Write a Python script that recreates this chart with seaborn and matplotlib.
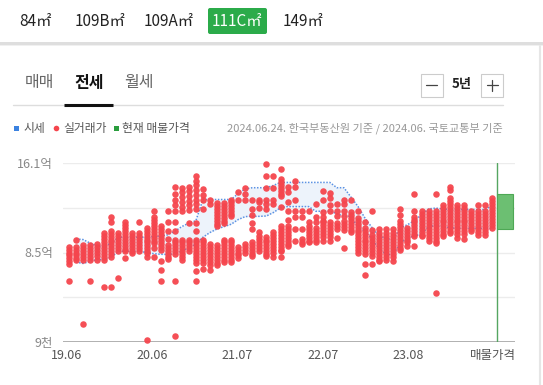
import matplotlib
matplotlib.use('Agg')
import matplotlib.pyplot as plt
from matplotlib.patches import Rectangle, FancyBboxPatch, Circle
import numpy as np
import pandas as pd
import seaborn as sns

# 월 인덱스 (0 = 2019.06 ... 60 = 2024.06)
month_idx = list(range(61))
tick_pos = [-0.3, 11.8, 23.9, 36.0, 48.1]
tick_labels = ['19.06', '20.06', '21.07', '22.07', '23.08']

# 시세 상/하한 (억)
sise_high = [None, 9.65, 9.6, 9.3, 9.05, 9.03, 9.3, 9.8, 9.8, 9.8, 9.8, 9.8, 9.85, 9.9, 10.0,
             10.3, 10.7, 11.0, 11.2, 13.0, 13.0, 13.0, 13.0, 13.0, 13.5, 13.9, 14.0, 14.0, 14.0,
             14.2, 14.45, 14.45, 14.45, 14.45, 14.45, 14.45, 14.45, 14.45, 14.0, 14.0, 13.2, 12.4,
             11.4, 10.6, 9.9, 9.7, 9.6, 10.6, 10.86, 11.2, 11.7, 12.2, 12.27, 12.2, 12.15, 12.15,
             12.15, 12.15, 12.15, 12.15, 12.47]
sise_low = [None, 7.68, 7.57, 7.75, 7.9, 7.9, 8.1, 8.6, 8.6, 8.6, 8.6, 8.5, 8.4, 8.35, 8.33,
            8.4, 8.6, 8.9, 9.2, 9.8, 10.2, 10.5, 10.7, 10.9, 11.3, 11.55, 11.57, 11.57, 11.6,
            11.9, 12.3, 12.4, 12.4, 12.4, 12.4, 12.0, 12.0, 12.0, 11.8, 11.57, 11.57, 10.6, 10.3,
            9.6, 8.8, 8.33, 8.33, 9.3, 9.74, 9.9, 10.07, 10.7, 10.78, 10.7, 10.6, 10.55, 10.55,
            10.55, 10.55, 10.55, 10.53]

# 실거래가 (억), 월별
deals = [
    [9.0, 8.75, 8.5, 8.25, 8.0, 7.8, 7.5, 6.05],
    [9.6, 9.0, 8.75, 8.5, 8.25, 8.0, 7.9],
    [9.1, 8.85, 8.6, 8.35, 8.1, 7.9, 2.45],
    [9.1, 8.85, 8.6, 8.35, 8.1, 7.9, 6.05],
    [9.2, 8.95, 8.7, 8.45, 8.2, 7.9],
    [10.15, 9.9, 9.65, 9.4, 9.15, 8.9, 8.65, 8.4, 8.15, 7.9, 5.55],
    [11.5, 11.05, 10.35, 10.1, 9.85, 9.6, 9.35, 9.1, 8.85, 8.6, 8.35, 8.15, 5.55],
    [10.15, 9.9, 9.65, 9.4, 9.15, 8.9, 8.65, 6.35],
    [11.05, 10.8, 10.55, 10.3, 10.05, 9.8, 9.55, 9.3, 9.05, 8.8, 8.6, 8.05],
    [10.15, 9.9, 9.65, 9.4, 9.15, 8.9, 8.65, 8.45],
    [11.1, 10.15, 9.9, 9.65, 9.4, 9.15, 8.9, 8.65],
    [10.6, 10.35, 10.1, 9.85, 9.6, 9.35, 9.1, 8.85, 8.6, 8.45, 8.15, 1.1],
    [12.05, 11.5, 11.25, 11.0, 10.75, 10.5, 10.25, 10.0, 9.75, 9.5, 9.3, 8.9, 8.15],
    [10.75, 10.5, 10.25, 10.0, 9.75, 9.5, 9.25, 9.0, 8.75, 7.8, 7.05, 6.05],
    [12.05, 11.05, 10.35, 9.65, 9.1, 8.85, 8.6, 8.35, 8.1, 7.95],
    [14.05, 13.5, 13.0, 12.5, 12.0, 11.05, 10.3, 9.6, 9.35, 9.1, 8.85, 8.6, 8.4, 6.05, 1.4],
    [14.0, 13.6, 13.2, 12.8, 12.4, 12.0, 9.6, 9.35, 9.1, 8.85, 8.6, 8.35, 8.1, 7.9],
    [14.1, 13.7, 13.3, 12.9, 12.5, 12.1, 11.0, 9.6, 9.35, 9.1, 8.85, 8.6],
    [15.0, 14.6, 14.2, 13.8, 13.4, 13.0, 12.6, 12.2, 11.0, 10.3, 9.6, 9.35, 9.1, 8.85, 8.6,
     8.35, 8.1, 7.85, 7.65, 6.9, 6.1],
    [13.85, 13.4, 13.0, 12.2, 9.6, 9.35, 9.1, 8.85, 8.6, 8.35, 8.1, 7.85, 7.6, 7.1],
    [13.0, 12.6, 9.2, 8.95, 8.7, 8.45, 8.2, 7.95, 7.7, 7.45, 7.0],
    [12.7, 12.45, 12.2, 11.95, 11.7, 11.45, 11.2, 10.95, 10.75, 9.1, 8.85, 8.6, 8.35, 8.1, 7.85,
     7.6, 7.4],
    [12.7, 12.45, 12.2, 11.95, 11.7, 11.45, 11.2, 11.0, 9.6, 9.35, 9.1, 8.85, 8.6, 8.35, 8.1,
     7.85, 7.7],
    [13.0, 12.75, 12.5, 12.25, 12.0, 11.75, 11.6, 9.6, 9.35, 9.1, 8.85, 8.6, 8.35, 8.1, 7.85, 7.7],
    [13.6, 13.0, 9.0, 8.75, 8.5, 8.25, 8.0],
    [14.0, 13.5, 13.0, 9.2, 8.95, 8.7, 8.45],
    [13.0, 12.2, 11.7, 11.0, 10.5, 9.4, 9.15, 8.9, 8.65, 8.4, 8.2],
    [13.0, 12.8, 12.3, 10.25, 9.9, 9.65, 9.4, 9.15, 8.9, 8.65],
    [16.0, 15.0, 14.0, 13.0, 12.6, 12.2, 9.85, 9.6, 9.35, 9.1, 8.85, 8.6, 8.35, 8.2],
    [15.0, 14.0, 13.0, 12.6, 10.25, 10.0, 9.75, 9.5, 9.25, 9.0, 8.75, 8.5, 8.15],
    [15.6, 14.7, 14.45, 14.2, 13.95, 13.7, 13.45, 13.3, 12.4, 10.75, 10.5, 10.25, 10.0, 9.75,
     9.5, 9.25, 9.0, 8.75, 8.65, 8.15],
    [14.1, 13.6, 12.8, 12.0, 11.3, 10.75, 10.5, 10.25, 10.0, 9.75, 9.5, 9.25, 9.05],
    [14.55, 14.1, 13.0, 12.0, 11.55, 10.5, 9.5],
    [12.0, 11.55, 10.5, 9.65, 9.4, 9.2],
    [12.0, 11.05, 10.75, 10.5, 10.25, 10.0, 9.75, 9.5, 9.35],
    [12.6, 11.55, 11.05, 10.6, 10.35, 10.1, 9.85, 9.6, 9.35],
    [13.7, 13.0, 11.9, 11.55, 11.2, 11.05, 10.8, 10.55, 10.3, 10.05, 9.8, 9.5],
    [13.55, 13.1, 12.55, 12.0, 11.05, 10.8, 10.55, 10.3, 10.05, 9.8, 9.5],
    [12.6, 12.0, 11.6, 11.0, 10.75, 10.5, 9.75],
    [13.0, 12.6, 12.0, 11.6, 11.2, 10.95, 10.7, 10.45, 8.85],
    [13.0, 11.9, 11.65, 11.4, 11.15, 10.9, 10.65, 10.4, 10.2],
    [12.0, 11.45, 11.2, 10.95, 10.7, 10.45, 10.2, 9.95, 9.7, 9.45, 9.2, 8.95, 8.7, 8.5],
    [11.05, 10.6, 10.35, 10.1, 9.85, 9.6, 9.35, 9.1, 8.85, 8.6, 8.35, 7.5, 6.55],
    [12.0, 10.45, 10.0, 9.75, 9.5, 9.25, 9.0, 8.75, 8.5, 8.2, 7.5],
    [10.5, 10.15, 9.9, 9.65, 9.4, 9.15, 8.9, 8.65, 8.4, 8.15, 7.9, 7.75],
    [10.5, 10.15, 9.9, 9.65, 9.4, 9.15, 8.9, 8.65, 8.4, 8.15, 7.9],
    [10.5, 10.15, 9.9, 9.65, 9.4, 9.15, 8.9, 8.65, 8.4, 8.15, 7.75],
    [12.2, 11.7, 11.15, 10.9, 10.65, 10.4, 10.15, 9.9, 9.65, 9.4, 9.15, 8.9, 8.75],
    [10.6, 10.35, 10.1, 9.85, 9.6, 9.35, 9.05],
    [13.5, 12.0, 11.55, 11.3, 11.05, 10.8, 10.55, 10.3, 10.05, 9.9, 9.05],
    [12.0, 11.75, 11.5, 11.25, 11.0, 10.75, 10.5, 10.25, 10.0, 9.9],
    [12.0, 11.75, 11.5, 11.25, 11.0, 10.75, 10.5, 10.25, 10.0, 9.75, 9.45],
    [13.5, 12.0, 11.75, 11.5, 11.25, 11.0, 10.75, 10.5, 10.25, 10.0, 9.75, 9.5, 9.3, 5.05],
    [12.55, 12.3, 12.05, 11.8, 11.55, 11.3, 11.05, 10.8, 10.55, 10.3, 10.05, 9.9],
    [14.05, 13.8, 13.1, 12.85, 12.6, 12.35, 12.1, 11.85, 11.6, 11.35, 11.1, 10.85, 10.6, 10.35,
     10.15],
    [12.55, 12.3, 12.05, 11.8, 11.55, 11.3, 11.05, 10.8, 10.55, 10.3, 10.05, 9.75],
    [12.55, 12.3, 12.05, 11.8, 11.55, 11.3, 11.05, 10.8, 10.55, 10.3, 10.05, 9.65],
    [12.0, 11.75, 11.5, 11.25, 11.0, 10.75, 10.5, 10.3],
    [12.55, 12.0, 11.75, 11.5, 11.25, 11.0, 10.75, 10.5, 10.25, 10.0],
    [12.55, 12.0, 11.75, 11.5, 11.25, 11.0, 10.75, 10.5, 10.25, 10.0],
    [13.1, 12.85, 12.6, 12.35, 12.1, 11.85, 11.6, 11.35, 11.1, 10.85, 10.6],
]

# 현재 매물가격 범위 (억)
listing_low = 10.5
listing_high = 13.5

ytick_vals = [0.9, 4.7, 8.5, 12.3, 16.1]
ytick_labels = ['9천', '', '8.5억', '', '16.1억']

area_tabs = ['84㎡', '109B㎡', '109A㎡', '111C㎡', '149㎡']
area_x = [35, 100, 169, 237, 303]
deal_tabs = ['매매', '전세', '월세']
deal_tab_x = [39, 89, 139]

sns.set_style('white')
plt.rcParams['font.family'] = ['Noto Sans CJK KR', 'DejaVu Sans']

deal_df = pd.DataFrame(
    [(m, p) for m, prices in zip(month_idx, deals) for p in prices],
    columns=['month', 'price'])
band_df = pd.DataFrame({'month': month_idx,
                        'high': pd.to_numeric(pd.Series(sise_high), errors='coerce'),
                        'low': pd.to_numeric(pd.Series(sise_low), errors='coerce')})

fig = plt.figure(figsize=(5.43, 3.85), dpi=100)

# UI 레이어 (픽셀 좌표)
ui = fig.add_axes([0, 0, 1, 1])
ui.set_xlim(0, 543)
ui.set_ylim(385, 0)
ui.axis('off')

ui.add_patch(Rectangle((0, 42), 543, 2.5, color='#dedede', lw=0))
ui.add_patch(Rectangle((0, 44.5), 543, 1.5, color='#f0f0f0', lw=0))
ui.add_patch(FancyBboxPatch((208, 8), 59, 26, boxstyle='round,pad=0,rounding_size=2',
                            fc='#2bab4a', ec='none'))
for lbl, x in zip(area_tabs, area_x):
    ui.text(x, 21, lbl, ha='center', va='center', fontsize=11,
            color='white' if lbl == '111C㎡' else '#222222')

for lbl, x in zip(deal_tabs, deal_tab_x):
    sel = lbl == '전세'
    ui.text(x, 83, lbl, ha='center', va='center', fontsize=11.5,
            color='#111111' if sel else '#666666', fontweight='bold' if sel else 'normal')
ui.plot([13, 503], [104.5, 104.5], color='#dddddd', lw=1)
ui.plot([64, 113], [104.5, 104.5], color='#111111', lw=2.2, solid_capstyle='butt')

ui.add_patch(Rectangle((420.5, 73.5), 22, 23, fc='white', ec='#cccccc', lw=0.8))
ui.add_patch(Rectangle((481, 73.5), 22, 23, fc='white', ec='#cccccc', lw=0.8))
ui.plot([426, 437], [85, 85], color='#444444', lw=0.9)
ui.plot([486.5, 497.5], [85, 85], color='#444444', lw=0.9)
ui.plot([492, 492], [79.5, 90.5], color='#444444', lw=0.9)
ui.text(462, 84, '5년', ha='center', va='center', fontsize=9.5, fontweight='bold',
        color='#222222')

# 범례
ui.add_patch(Rectangle((13.5, 126), 5, 5, color='#3b82e0', lw=0))
ui.text(23, 128.5, '시세', ha='left', va='center', fontsize=8.5, color='#555555')
ui.add_patch(Circle((56.5, 128.5), 2.8, color='#f5454d', lw=0))
ui.text(63, 128.5, '실거래가', ha='left', va='center', fontsize=8.5, color='#555555')
ui.add_patch(Rectangle((113.5, 126), 5, 5, color='#2a9d3e', lw=0))
ui.text(122, 128.5, '현재 매물가격', ha='left', va='center', fontsize=8.5, color='#555555')
ui.text(503, 128.5, '2024.06.24. 한국부동산원 기준 / 2024.06. 국토교통부 기준', ha='right',
        va='center', fontsize=8, color='#999999')
ui.plot([540, 540], [46, 385], color='#e6e6e6', lw=1.5)

# 차트
ax = fig.add_axes([63 / 543, 1 - 342 / 385, 452 / 543, 179 / 385])
ax.set_facecolor('none')
ax.set_xlim(-0.85, 63.26)
ax.set_ylim(0.9, 16.1)
for v in ytick_vals[1:]:
    ax.axhline(v, color='#ececec', lw=1, zorder=0)
ax.axhline(ytick_vals[0], color='#aaaaaa', lw=1.3, zorder=1)

ax.fill_between(band_df['month'], band_df['low'], band_df['high'], color='#edf3fb',
                lw=0, zorder=1)
sns.lineplot(data=band_df, x='month', y='high', ax=ax, color='#5b92e3', lw=1.1,
             linestyle=(0, (1, 1)), zorder=2)
sns.lineplot(data=band_df, x='month', y='low', ax=ax, color='#5b92e3', lw=1.1,
             linestyle=(0, (1, 1)), zorder=2)

sns.scatterplot(data=deal_df, x='month', y='price', ax=ax, color='#f5454d', s=22,
                linewidth=0, alpha=0.95, zorder=3, clip_on=False)

# 현재 매물가격
ax.axvline(60.7, ymin=0, ymax=1, color='#55a661', lw=1, zorder=2)
ax.add_patch(Rectangle((60.75, listing_low), 2.25, listing_high - listing_low,
                       fc='#6cbf72', ec='#4ea855', lw=0.8, zorder=3))

ax.set_xticks(tick_pos + [60.1])
ax.set_xticklabels(tick_labels + ['매물가격'], fontsize=9, color='#555555')
ax.set_yticks(ytick_vals)
ax.set_yticklabels(ytick_labels, fontsize=9, color='#888888')
ax.tick_params(axis='both', length=0)
ax.tick_params(axis='x', pad=5)
ax.tick_params(axis='y', pad=7)
ax.set_xlabel('')
ax.set_ylabel('')
for s in ax.spines.values():
    s.set_visible(False)

fig.savefig('out.png', dpi=100)
